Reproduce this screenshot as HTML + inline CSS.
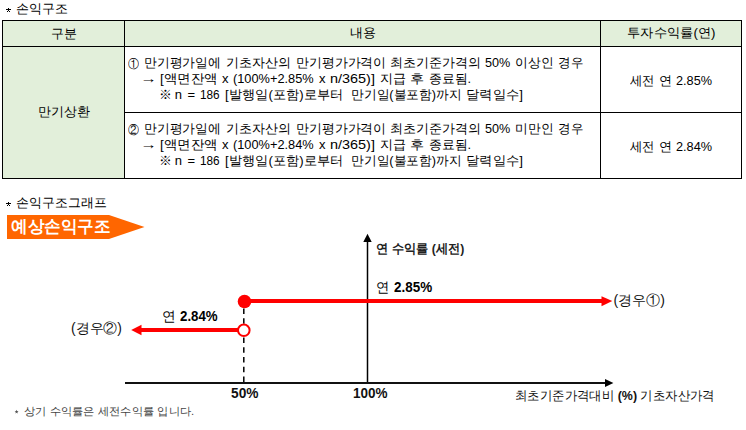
<!DOCTYPE html>
<html lang="ko">
<head>
<meta charset="utf-8">
<style>
html,body{margin:0;padding:0;background:#fff;}
body{width:746px;height:430px;overflow:hidden;position:relative;font-family:"Liberation Sans",sans-serif;color:#000;}
.t{position:absolute;white-space:nowrap;line-height:20px;transform-origin:0 0;}
.g{position:absolute;background:#e2efda;}
.l{position:absolute;background:#000;}
svg{position:absolute;left:0;top:0;}
</style>
</head>
<body>
<!-- table fills -->
<div class="g" style="left:3px;top:21px;width:738px;height:25px;"></div>
<div class="g" style="left:3px;top:47px;width:121px;height:131px;"></div>
<!-- table lines -->
<div class="l" style="left:2px;top:20px;width:740px;height:1px;"></div>
<div class="l" style="left:2px;top:46px;width:740px;height:1px;"></div>
<div class="l" style="left:124px;top:112px;width:618px;height:1px;"></div>
<div class="l" style="left:2px;top:178px;width:740px;height:1px;"></div>
<div class="l" style="left:2px;top:20px;width:1px;height:159px;"></div>
<div class="l" style="left:124px;top:20px;width:1px;height:159px;"></div>
<div class="l" style="left:600px;top:20px;width:1px;height:159px;"></div>
<div class="l" style="left:741px;top:20px;width:1px;height:159px;"></div>

<svg width="746" height="430" viewBox="0 0 746 430">
  <!-- asterisks -->
  <g fill="#000" shape-rendering="crispEdges">
    <rect x="6" y="9" width="5" height="1"/><rect x="8" y="8" width="1" height="3"/><rect x="7" y="11" width="1" height="1"/><rect x="9" y="11" width="1" height="1"/>
    <rect x="6" y="203" width="5" height="1"/><rect x="8" y="202" width="1" height="3"/><rect x="7" y="205" width="1" height="1"/><rect x="9" y="205" width="1" height="1"/>
  </g>
  <polygon points="16.6,409.7 17.1,411.1 18.6,411.2 17.4,412.1 17.8,413.6 16.6,412.7 15.4,413.6 15.8,412.1 14.6,411.2 16.1,411.1" fill="#555"/>
  <!-- banner -->
  <polygon points="7,215 109,215 144.5,227 109,239 7,239" fill="#ff6600"/>
  <!-- y axis -->
  <line x1="367.5" y1="240" x2="367.5" y2="383" stroke="#000" stroke-width="1.5"/>
  <polygon points="367.5,233.8 363.3,242 371.7,242" fill="#000"/>
  <!-- x axis -->
  <line x1="125" y1="383" x2="607" y2="383" stroke="#111" stroke-width="2"/>
  <polygon points="613.4,383 605,378.9 605,387.1" fill="#000"/>
  <!-- dashed -->
  <line x1="243.8" y1="308.5" x2="243.8" y2="382" stroke="#000" stroke-width="1.5" stroke-dasharray="5.5 4.2"/>
  <!-- upper red -->
  <line x1="244.5" y1="301" x2="603" y2="301" stroke="#ff0000" stroke-width="4"/>
  <polygon points="612.3,301 601.5,296.2 601.5,306.2" fill="#ff0000"/>
  <circle cx="244.5" cy="301.5" r="6.8" fill="#ff0000"/>
  <!-- lower red -->
  <line x1="140" y1="330" x2="238" y2="330" stroke="#ff0000" stroke-width="4"/>
  <polygon points="131.2,330 141.5,324.8 141.5,335.2" fill="#ff0000"/>
  <circle cx="243.8" cy="330.3" r="5.8" fill="#fff" stroke="#ff0000" stroke-width="2"/>
</svg>
<div class="t" style="left:16.20px;top:-1.00px;font-size:13px;font-weight:normal;">손익구조</div>
<div class="t" style="left:51.00px;top:24.00px;font-size:13px;font-weight:normal;">구분</div>
<div class="t" style="left:350.00px;top:23.00px;font-size:13px;font-weight:normal;">내용</div>
<div class="t" style="left:626.78px;top:23.00px;font-size:13px;font-weight:normal;transform:scaleX(1.0212);">투자수익률(연)</div>
<div class="t" style="left:38.00px;top:102.00px;font-size:13px;font-weight:normal;">만기상환</div>
<div class="t" style="left:128.00px;top:53.70px;font-size:11.5px;font-weight:normal;transform:scaleX(0.9167);">①</div>
<div class="t" style="left:144.31px;top:53.00px;font-size:13px;font-weight:normal;transform:scaleX(0.9853);">만기평가일에</div>
<div class="t" style="left:225.70px;top:53.00px;font-size:13px;font-weight:normal;">기초자산의</div>
<div class="t" style="left:295.71px;top:53.00px;font-size:13px;font-weight:normal;transform:scaleX(0.9920);">만기평가가격이</div>
<div class="t" style="left:389.70px;top:53.00px;font-size:13px;font-weight:normal;">최초기준가격의</div>
<div class="t" style="left:484.83px;top:53.00px;font-size:13px;font-weight:normal;transform:scaleX(0.9720);">50%</div>
<div class="t" style="left:514.92px;top:53.00px;font-size:13px;font-weight:normal;transform:scaleX(0.9833);">이상인</div>
<div class="t" style="left:558.04px;top:53.00px;font-size:13px;font-weight:normal;transform:scaleX(0.9625);">경우</div>
<div class="t" style="left:139.98px;top:69.00px;font-size:13px;font-weight:normal;transform:scaleX(1.2750);">→</div>
<div class="t" style="left:160.36px;top:69.00px;font-size:13px;font-weight:normal;transform:scaleX(1.0377);">[액면잔액</div>
<div class="t" style="left:222.10px;top:69.00px;font-size:13px;font-weight:normal;">x</div>
<div class="t" style="left:233.02px;top:69.00px;font-size:13px;font-weight:normal;transform:scaleX(0.9827);">(100%+2.85%</div>
<div class="t" style="left:319.10px;top:69.00px;font-size:13px;font-weight:normal;">x</div>
<div class="t" style="left:329.89px;top:69.00px;font-size:13px;font-weight:normal;transform:scaleX(1.1103);">n/365)]</div>
<div class="t" style="left:380.30px;top:69.00px;font-size:13px;font-weight:normal;">지급</div>
<div class="t" style="left:410.41px;top:69.00px;font-size:13px;font-weight:normal;transform:scaleX(1.0909);">후</div>
<div class="t" style="left:428.61px;top:69.00px;font-size:13px;font-weight:normal;transform:scaleX(0.9902);">종료됨.</div>
<div class="t" style="left:159.12px;top:85.00px;font-size:13px;font-weight:normal;transform:scaleX(0.9889);">※</div>
<div class="t" style="left:174.80px;top:85.00px;font-size:13px;font-weight:normal;">n</div>
<div class="t" style="left:187.50px;top:85.00px;font-size:13px;font-weight:normal;">=</div>
<div class="t" style="left:200.00px;top:85.00px;font-size:13px;font-weight:normal;transform:scaleX(0.9050);">186</div>
<div class="t" style="left:225.38px;top:85.00px;font-size:13px;font-weight:normal;transform:scaleX(1.0186);">[발행일(포함)로부터</div>
<div class="t" style="left:350.52px;top:85.00px;font-size:13px;font-weight:normal;transform:scaleX(0.9809);">만기일(불포함)까지</div>
<div class="t" style="left:465.87px;top:85.00px;font-size:13px;font-weight:normal;transform:scaleX(1.0259);">달력일수]</div>
<div class="t" style="left:128.00px;top:119.70px;font-size:11.5px;font-weight:normal;transform:scaleX(0.9167);">②</div>
<div class="t" style="left:144.31px;top:119.00px;font-size:13px;font-weight:normal;transform:scaleX(0.9853);">만기평가일에</div>
<div class="t" style="left:225.70px;top:119.00px;font-size:13px;font-weight:normal;">기초자산의</div>
<div class="t" style="left:295.71px;top:119.00px;font-size:13px;font-weight:normal;transform:scaleX(0.9920);">만기평가가격이</div>
<div class="t" style="left:389.70px;top:119.00px;font-size:13px;font-weight:normal;">최초기준가격의</div>
<div class="t" style="left:484.83px;top:119.00px;font-size:13px;font-weight:normal;transform:scaleX(0.9720);">50%</div>
<div class="t" style="left:514.92px;top:119.00px;font-size:13px;font-weight:normal;transform:scaleX(0.9833);">미만인</div>
<div class="t" style="left:558.04px;top:119.00px;font-size:13px;font-weight:normal;transform:scaleX(0.9625);">경우</div>
<div class="t" style="left:139.98px;top:135.00px;font-size:13px;font-weight:normal;transform:scaleX(1.2750);">→</div>
<div class="t" style="left:160.36px;top:135.00px;font-size:13px;font-weight:normal;transform:scaleX(1.0377);">[액면잔액</div>
<div class="t" style="left:222.10px;top:135.00px;font-size:13px;font-weight:normal;">x</div>
<div class="t" style="left:233.02px;top:135.00px;font-size:13px;font-weight:normal;transform:scaleX(0.9827);">(100%+2.84%</div>
<div class="t" style="left:319.10px;top:135.00px;font-size:13px;font-weight:normal;">x</div>
<div class="t" style="left:329.89px;top:135.00px;font-size:13px;font-weight:normal;transform:scaleX(1.1103);">n/365)]</div>
<div class="t" style="left:380.30px;top:135.00px;font-size:13px;font-weight:normal;">지급</div>
<div class="t" style="left:410.41px;top:135.00px;font-size:13px;font-weight:normal;transform:scaleX(1.0909);">후</div>
<div class="t" style="left:428.61px;top:135.00px;font-size:13px;font-weight:normal;transform:scaleX(0.9902);">종료됨.</div>
<div class="t" style="left:159.12px;top:151.00px;font-size:13px;font-weight:normal;transform:scaleX(0.9889);">※</div>
<div class="t" style="left:174.80px;top:151.00px;font-size:13px;font-weight:normal;">n</div>
<div class="t" style="left:187.50px;top:151.00px;font-size:13px;font-weight:normal;">=</div>
<div class="t" style="left:200.00px;top:151.00px;font-size:13px;font-weight:normal;transform:scaleX(0.9050);">186</div>
<div class="t" style="left:225.38px;top:151.00px;font-size:13px;font-weight:normal;transform:scaleX(1.0186);">[발행일(포함)로부터</div>
<div class="t" style="left:350.52px;top:151.00px;font-size:13px;font-weight:normal;transform:scaleX(0.9809);">만기일(불포함)까지</div>
<div class="t" style="left:465.87px;top:151.00px;font-size:13px;font-weight:normal;transform:scaleX(1.0259);">달력일수]</div>
<div class="t" style="left:630.00px;top:70.50px;font-size:13px;font-weight:normal;transform:scaleX(0.9500);">세전</div>
<div class="t" style="left:659.19px;top:70.50px;font-size:13px;font-weight:normal;transform:scaleX(1.0100);">연</div>
<div class="t" style="left:676.02px;top:70.50px;font-size:13px;font-weight:normal;transform:scaleX(0.9778);">2.85%</div>
<div class="t" style="left:630.00px;top:136.50px;font-size:13px;font-weight:normal;transform:scaleX(0.9500);">세전</div>
<div class="t" style="left:659.19px;top:136.50px;font-size:13px;font-weight:normal;transform:scaleX(1.0100);">연</div>
<div class="t" style="left:676.02px;top:136.50px;font-size:13px;font-weight:normal;transform:scaleX(0.9778);">2.84%</div>
<div class="t" style="left:15.91px;top:193.00px;font-size:13px;font-weight:normal;transform:scaleX(0.9944);">손익구조그래프</div>
<div class="t" style="left:11.42px;top:216.60px;font-size:17px;font-weight:bold;color:#fff;transform:scaleX(0.9760);">예상손익구조</div>
<div class="t" style="left:375.76px;top:238.85px;font-size:13px;font-weight:bold;color:#222;transform:scaleX(0.9402);">연 수익률 (세전)</div>
<div class="t" style="left:376.35px;top:276.50px;font-size:14px;font-weight:normal;transform:scaleX(0.9545);">연</div>
<div class="t" style="left:393.90px;top:276.50px;font-size:14px;font-weight:normal;transform:scaleX(0.9268);"><b style="font-size:14.5px">2.85%</b></div>
<div class="t" style="left:162.02px;top:306.45px;font-size:14px;font-weight:normal;transform:scaleX(0.9818);">연</div>
<div class="t" style="left:179.90px;top:306.45px;font-size:14px;font-weight:normal;transform:scaleX(0.9146);"><b style="font-size:14.5px">2.84%</b></div>
<div class="t" style="left:613.60px;top:290.10px;font-size:14px;font-weight:normal;color:#111;">(경우①)</div>
<div class="t" style="left:70.51px;top:318.20px;font-size:14px;font-weight:normal;color:#111;transform:scaleX(0.9920);">(경우②)</div>
<div class="t" style="left:230.65px;top:382.75px;font-size:14.5px;font-weight:bold;color:#111;transform:scaleX(0.9464);">50%</div>
<div class="t" style="left:352.77px;top:382.75px;font-size:14.5px;font-weight:bold;color:#111;transform:scaleX(0.9306);">100%</div>
<div class="t" style="left:515.05px;top:385.70px;font-size:13px;font-weight:normal;color:#111;transform:scaleX(0.9544);">최초기준가격대비 <b>(%)</b> 기초자산가격</div>
<div class="t" style="left:23.68px;top:401.15px;font-size:11px;font-weight:normal;color:#444;transform:scaleX(1.0236);">상기 수익률은 세전수익률 입니다.</div>
</body>
</html>
